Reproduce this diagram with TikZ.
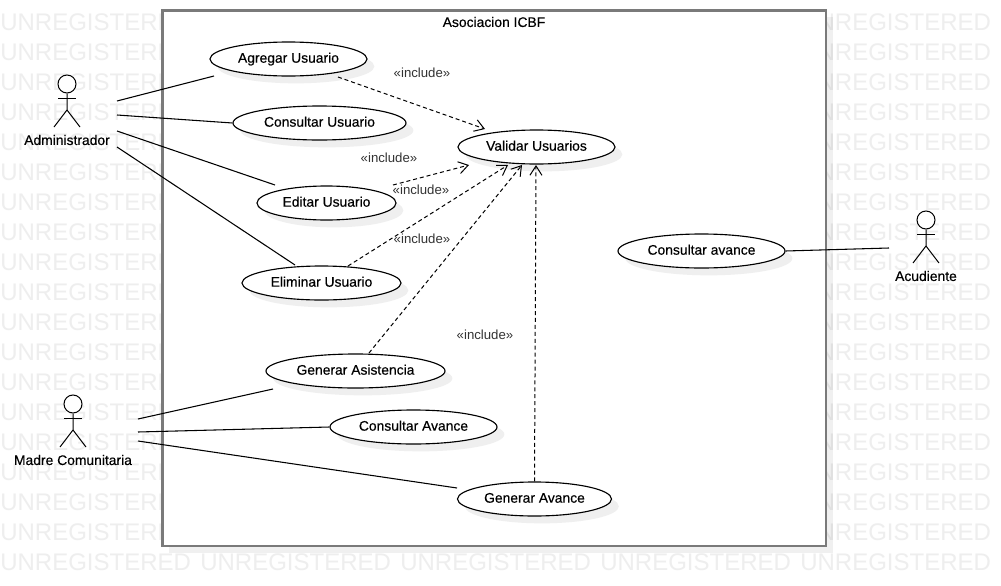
\documentclass[tikz,border=0pt]{standalone}
\usepackage{fontspec}
\setmainfont{Liberation Sans}
\newfontfamily\fakebold[FakeBold=0.35]{Liberation Sans}
\usetikzlibrary{shapes.geometric,arrows.meta,shadows}
\definecolor{wm}{HTML}{EEEEEE}
\definecolor{shd}{HTML}{EFEFEF}
\definecolor{frame}{HTML}{7A7A7A}
\definecolor{inc}{HTML}{333333}
\tikzset{
  x=0.75pt,y=-0.75pt,
  watermark/.style={anchor=west,inner sep=0pt,text=wm,font=\fontsize{18}{18}\selectfont},
  usecase/.style={ellipse,draw=black,line width=0.85pt,fill=white,inner sep=0pt,
    text height=7.5pt,text depth=2pt,
    font=\fakebold\fontsize{10.4}{12}\selectfont,
    drop shadow={shadow xshift=5.5pt,shadow yshift=-5.5pt,fill=shd,opacity=1}},
  actorhead/.style={circle,draw=black,line width=0.75pt,minimum size=13.5pt,inner sep=0pt,fill=white},
  actorlabel/.style={inner sep=0pt,font=\fakebold\fontsize{10.4}{12}\selectfont},
  limb/.style={draw=black,line width=0.75pt},
  assoc/.style={draw=black,line width=0.8pt},
  incl/.style={draw=black,line width=0.75pt,dash pattern=on 3pt off 2.2pt,
    -{Straight Barb[length=7pt,width=9pt,line width=0.75pt]}},
  inclabel/.style={inner sep=0pt,text=inc,font=\fontsize{9.9}{12}\selectfont},
}
\begin{document}
\begin{tikzpicture}
\useasboundingbox (0,0) rectangle (1001,586);
\fill[white] (0,0) rectangle (1001,586);
% watermark
\foreach \r in {22,52,...,562}
  \foreach \c in {0,200,...,800}
    \node[watermark] (w\r-\c) at (\c,\r) {UNREGISTERED};
% system boundary
\fill[black,opacity=0.06] (169,17) rectangle (833,553);
\node[draw=frame,line width=1.6pt,fill=white,outer sep=0pt,minimum width=497.4pt,minimum height=401.4pt,inner sep=0pt,anchor=north west] (sys) at (162.5,10.5) {};
\node[inner sep=0pt,font=\fakebold\fontsize{10.4}{12}\selectfont] (title) at (494,22) {Asociacion ICBF};
% use cases
\node[usecase,minimum width=117.75pt,minimum height=25.5pt] (agregar) at (288.5,59) {Agregar Usuario};
\node[usecase,minimum width=129.75pt,minimum height=25.5pt] (consultar) at (319.5,123) {Consultar Usuario};
\node[usecase,minimum width=117.75pt,minimum height=25.5pt] (validar) at (536.5,147) {Validar Usuarios};
\node[usecase,minimum width=104.25pt,minimum height=25.5pt] (editar) at (326.5,203) {Editar Usuario};
\node[usecase,minimum width=119.25pt,minimum height=25.5pt] (eliminar) at (321.5,283) {Eliminar Usuario};
\node[usecase,minimum width=134.25pt,minimum height=25.5pt] (asistencia) at (355.5,371) {Generar Asistencia};
\node[usecase,minimum width=125.25pt,minimum height=25.5pt] (cavance) at (413.5,427) {Consultar Avance};
\node[usecase,minimum width=115.5pt,minimum height=25.5pt] (gavance) at (534.5,499) {Generar Avance};
\node[usecase,minimum width=125.25pt,minimum height=25.5pt] (consavance) at (701.5,251) {Consultar avance};
% actors
\node[actorhead] (adminhead) at (67,84) {};
\draw[limb] (adminhead.south) -- (67,110) -- (54,127);
\draw[limb] (58,98) -- (76,98);
\draw[limb] (67,110) -- (80,127);
\node[actorlabel] (admin) at (67,140) {Administrador};
\node[actorhead] (madrehead) at (73,404) {};
\draw[limb] (madrehead.south) -- (73,430) -- (60,447);
\draw[limb] (64,418) -- (82,418);
\draw[limb] (73,430) -- (86,447);
\node[actorlabel] (madre) at (73,460) {Madre Comunitaria};
\node[actorhead] (acudhead) at (926,220) {};
\draw[limb] (acudhead.south) -- (926,246) -- (913,263);
\draw[limb] (917,234) -- (935,234);
\draw[limb] (926,246) -- (939,263);
\node[actorlabel] (acud) at (926,276) {Acudiente};
% connector free ends
\coordinate (a1) at (117,101); \coordinate (a1e) at (214,76);
\coordinate (a2) at (117,115);
\coordinate (a3) at (117,131); \coordinate (a3e) at (275,185);
\coordinate (a4) at (117,147); \coordinate (a4e) at (295,265);
\coordinate (m1) at (138,419); \coordinate (m1e) at (273,389);
\coordinate (m2) at (138,432);
\coordinate (m3) at (138,441); \coordinate (m3e) at (457,488);
\coordinate (c1) at (889,248);
% associations
\draw[assoc] (a1) -- (a1e);
\draw[assoc] (a2) -- (consultar.west);
\draw[assoc] (a3) -- (a3e);
\draw[assoc] (a4) -- (a4e);
\draw[assoc] (m1) -- (m1e);
\draw[assoc] (m2) -- (cavance.west);
\draw[assoc] (m3) -- (m3e);
\draw[assoc] (consavance.east) -- (c1);
% includes
\coordinate (v1) at (485,129); \coordinate (v2) at (469,165); \coordinate (v3) at (508,165);
\coordinate (v4) at (522,165); \coordinate (v5) at (536,165);
\coordinate (s1) at (338,77); \coordinate (s2) at (393,185); \coordinate (s3) at (348,266);
\coordinate (s4) at (369,353);
\draw[incl] (s1) -- (v1);
\draw[incl] (s2) -- (v2);
\draw[incl] (s3) -- (v3);
\draw[incl] (s4) -- (v4);
\draw[incl] (gavance.north) -- (v5);
\node[inclabel] (i1) at (422,73) {«include»};
\node[inclabel] (i2) at (389,158) {«include»};
\node[inclabel] (i3) at (421,190) {«include»};
\node[inclabel] (i4) at (422,239) {«include»};
\node[inclabel] (i5) at (485,335) {«include»};
\end{tikzpicture}
\end{document}
